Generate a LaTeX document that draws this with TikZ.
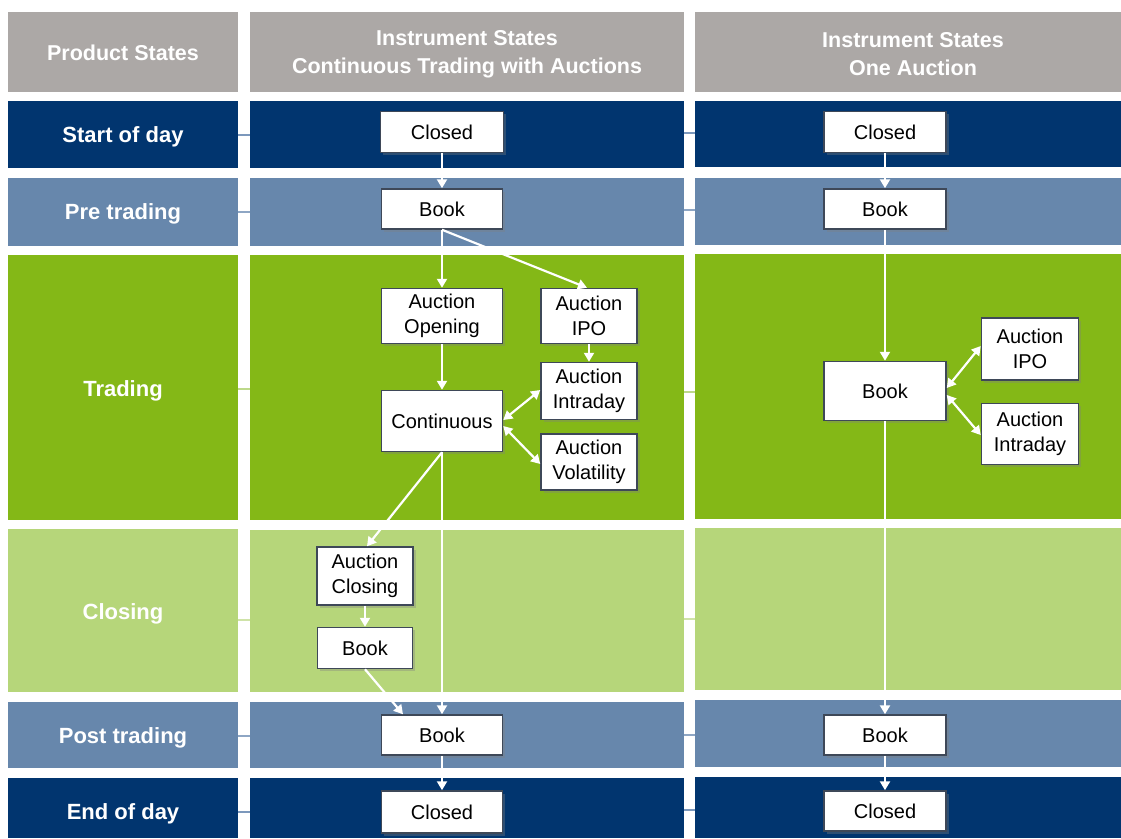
\documentclass[tikz,border=0pt]{standalone}
\usepackage{fontspec}
\setmainfont{Liberation Sans}
\usetikzlibrary{arrows.meta,shadows,calc}
\definecolor{navy}{HTML}{01356F}
\definecolor{steel}{HTML}{6787AC}
\definecolor{grn}{HTML}{84B817}
\definecolor{lgrn}{HTML}{B6D67A}
\definecolor{hdr}{HTML}{ACA8A6}
\definecolor{boxedge}{HTML}{3E4858}
\definecolor{gapnavy}{HTML}{7C98BC}
\definecolor{gapsteel}{HTML}{8EA6C4}
\definecolor{gapgrn}{HTML}{BDD98A}
\definecolor{gaplgrn}{HTML}{CFE3A8}
\tikzset{
  hdrtext/.style={text=white,font=\fontsize{21.5}{28}\selectfont\bfseries,align=center,inner sep=0pt},
  rowtext/.style={text=white,font=\fontsize{22}{26}\selectfont\bfseries,inner sep=0pt},
  statebox/.style={draw=boxedge,line width=1.5pt,fill=white,inner sep=0pt,align=center,
    font=\fontsize{20}{25}\selectfont,
    drop shadow={shadow xshift=2.5pt,shadow yshift=-2.5pt,opacity=0.35}},
  arr/.style={draw=white,line width=2.2pt,-{Triangle[width=10pt,length=9pt]}},
  darr/.style={draw=white,line width=2.2pt,{Triangle[width=10pt,length=9pt]}-{Triangle[width=10pt,length=9pt]}},
  gapline/.style={line width=1.2pt}
}
\begin{document}
\begin{tikzpicture}[x=1pt,y=-1pt]
\useasboundingbox (0,0) rectangle (1121,838);
\fill[white] (0,0) rectangle (1121,838);
% header
\fill[hdr] (8,12) rectangle (238,92);
\fill[hdr] (250,12) rectangle (684,92);
\fill[hdr] (695,12) rectangle (1121,92);
\node[hdrtext] (h0) at (123,53) {Product States};
\node[hdrtext] (h1) at (467,54) {Instrument States\\Continuous Trading with Auctions};
\node[hdrtext] (h2) at (913,54) {Instrument States\\One Auction};
% bands
\fill[navy]  (8,101) rectangle (238,168);
\fill[navy]  (250,101) rectangle (684,168);
\fill[navy]  (695,101) rectangle (1121,167);
\fill[steel] (8,178) rectangle (238,246);
\fill[steel] (250,178) rectangle (684,246);
\fill[steel] (695,178) rectangle (1121,245);
\fill[grn]   (8,255) rectangle (238,520);
\fill[grn]   (250,255) rectangle (684,520);
\fill[grn]   (695,254) rectangle (1121,519);
\fill[lgrn]  (8,529) rectangle (238,692);
\fill[lgrn]  (250,530) rectangle (684,692);
\fill[lgrn]  (695,528) rectangle (1121,690);
\fill[steel] (8,702) rectangle (238,768);
\fill[steel] (250,702) rectangle (684,768);
\fill[steel] (695,700) rectangle (1121,767);
\fill[navy]  (8,778) rectangle (238,838);
\fill[navy]  (250,778) rectangle (684,838);
\fill[navy]  (695,777) rectangle (1121,838);
% gap lines
\draw[gapline,gapnavy]  (238,135) -- (250,135) (684,133) -- (695,133);
\draw[gapline,gapsteel] (238,212) -- (250,212) (684,210) -- (695,210);
\draw[gapline,gapgrn]   (238,389) -- (250,389) (684,392) -- (695,392);
\draw[gapline,gaplgrn]  (238,620) -- (250,620) (684,619) -- (695,619);
\draw[gapline,gapsteel] (238,736) -- (250,736) (684,735) -- (695,735);
\draw[gapline,gapnavy]  (238,812) -- (250,812) (684,810) -- (695,810);
% row labels
\node[rowtext] (r1) at (123,137) {Start of day};
\node[rowtext] (r2) at (123,214) {Pre trading};
\node[rowtext] (r3) at (123,391) {Trading};
\node[rowtext] (r4) at (123,614) {Closing};
\node[rowtext] (r5) at (123,738) {Post trading};
\node[rowtext] (r6) at (123,814) {End of day};
% column 1 states
\node[statebox,minimum width=123pt,minimum height=41pt] (c1closed) at (442,132) {Closed};
\node[statebox,minimum width=121pt,minimum height=40pt] (c1book) at (442,209) {Book};
\node[statebox,minimum width=121pt,minimum height=55pt] (c1open) at (442,316) {Auction\\Opening};
\node[statebox,minimum width=96pt,minimum height=55pt] (c1ipo) at (589,316) {Auction\\IPO};
\node[statebox,minimum width=96pt,minimum height=57pt] (c1intra) at (589,391) {Auction\\Intraday};
\node[statebox,minimum width=121pt,minimum height=61pt] (c1cont) at (442,421) {Continuous};
\node[statebox,minimum width=96pt,minimum height=56pt] (c1vol) at (589,462) {Auction\\Volatility};
\node[statebox,minimum width=96pt,minimum height=58pt] (c1aclose) at (365,576) {Auction\\Closing};
\node[statebox,minimum width=95pt,minimum height=41pt] (c1cbook) at (365,648) {Book};
\node[statebox,minimum width=121pt,minimum height=40pt] (c1pbook) at (442,735) {Book};
\node[statebox,minimum width=121pt,minimum height=42pt] (c1eclosed) at (442,812) {Closed};
% column 2 states
\node[statebox,minimum width=122pt,minimum height=41pt] (c2closed) at (885,132) {Closed};
\node[statebox,minimum width=122pt,minimum height=40pt] (c2book) at (885,209) {Book};
\node[statebox,minimum width=122pt,minimum height=59pt] (c2trade) at (885,391) {Book};
\node[statebox,minimum width=97pt,minimum height=62pt] (c2ipo) at (1030,349) {Auction\\IPO};
\node[statebox,minimum width=97pt,minimum height=61pt] (c2intra) at (1030,434) {Auction\\Intraday};
\node[statebox,minimum width=122pt,minimum height=40pt] (c2pbook) at (885,735) {Book};
\node[statebox,minimum width=122pt,minimum height=40pt] (c2eclosed) at (885,811) {Closed};
% connectors column 1
\draw[arr] (c1closed.south) -- (c1book.north);
\draw[arr] (c1book.south) -- (c1open.north);
\draw[arr] (c1book.south) -- ([xshift=-2pt]c1ipo.north);
\draw[arr] (c1ipo.south) -- (c1intra.north);
\draw[arr] (c1open.south) -- (c1cont.north);
\draw[darr] ([yshift=1pt]c1cont.east) -- ([yshift=1pt]c1intra.west);
\draw[darr] ([yshift=-5pt]c1cont.east) -- ([yshift=-2pt]c1vol.west);
\draw[arr] (c1cont.south) -- ([xshift=2pt]c1aclose.north);
\draw[arr] (c1cont.south) -- (c1pbook.north);
\draw[arr] (c1aclose.south) -- (c1cbook.north);
\draw[arr] (c1cbook.south) -- ([xshift=-39pt]c1pbook.north);
\draw[arr] (c1pbook.south) -- (c1eclosed.north);
% connectors column 2
\draw[arr] (c2closed.south) -- (c2book.north);
\draw[arr] (c2book.south) -- (c2trade.north);
\draw[darr] ([yshift=3pt]c2trade.east) -- ([yshift=3pt]c2ipo.west);
\draw[darr] ([yshift=-4pt]c2trade.east) -- ([yshift=-1pt]c2intra.west);
\draw[arr] (c2trade.south) -- (c2pbook.north);
\draw[arr] (c2pbook.south) -- (c2eclosed.north);
\end{tikzpicture}
\end{document}
